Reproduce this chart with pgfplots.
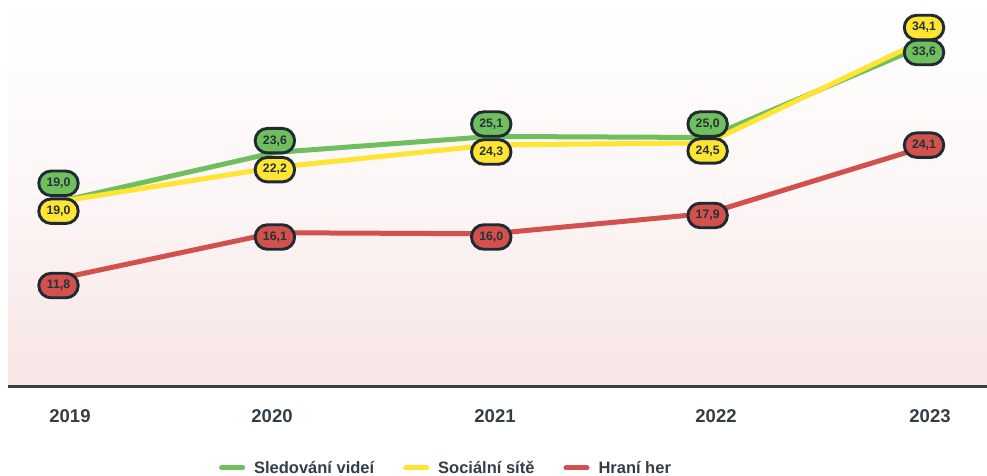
\documentclass[border=0pt]{standalone}
\usepackage{pgfplots}
\usepackage{pgfplotstable}
\pgfplotsset{compat=1.18}
\usepackage{fontspec}
\setmainfont{Liberation Sans}
\usetikzlibrary{shapes.misc}
\definecolor{cgreen}{HTML}{6FBF5F}
\definecolor{cyellow}{HTML}{FFE433}
\definecolor{cred}{HTML}{D2514D}
\definecolor{cborder}{HTML}{1F2A33}
\definecolor{ctext}{HTML}{26313A}
\definecolor{ctick}{HTML}{333D46}
\definecolor{cbg}{HTML}{F8E5E5}

\pgfplotstableread{
x v dy lab
0 19.0 18.4 19,0
1 23.6 11.8 23,6
2 25.1 12.4 25,1
3 25.0 13.5 25,0
4 33.6 -7.0 33,6
}\greentab
\pgfplotstableread{
x v dy lab
0 19.0 -9.5 19,0
1 22.2 -2.2 22,2
2 24.3 -7.0 24,3
3 24.5 -8.1 24,5
4 34.1 12.6 34,1
}\yellowtab
\pgfplotstableread{
x v dy lab
0 11.8 -6.8 11,8
1 16.1 -4.3 16,1
2 16.0 -3.2 16,0
3 17.9 -2.0 17,9
4 24.1 2.0 24,1
}\redtab

\pgfplotsset{
  vlabel/.style={
    draw=none, no markers, forget plot,
    nodes near coords, point meta=explicit symbolic,
    visualization depends on={\thisrow{dy} \as \dy},
    every node near coord/.append style={
      anchor=center, yshift=\dy pt, rounded rectangle, fill=#1,
      draw=cborder, line width=2.9pt, minimum width=39.5pt,
      minimum height=24.5pt, inner sep=0pt, text=ctext,
      font=\fontsize{12.3}{13}\selectfont\bfseries}
  }
}

\begin{document}
\begin{tikzpicture}
\useasboundingbox (-8pt,-90pt) rectangle (979pt,386pt);
\begin{axis}[
  scale only axis,
  width=979pt, height=386pt,
  xmin=-0.2334, xmax=4.2911,
  ymin=1.776, ymax=37.85,
  clip=false,
  axis x line=bottom, axis y line=none,
  x axis line style={-, draw=cborder!90!white, line width=3pt},
  ytick=\empty,
  xtick={0.0531,0.9867,2.0173,3.0387,4.0277},
  xticklabels={2019,2020,2021,2022,2023},
  major tick length=0pt,
  xticklabel style={font=\fontsize{18.5}{20}\selectfont\bfseries, text=ctick, anchor=center, yshift=-30pt},
  axis background/.style={top color=white, bottom color=cbg, middle color=cbg!35!white},
  legend style={at={(0.4469,-0.2124)}, anchor=center, draw=none, fill=none,
    nodes={font=\fontsize{16.5}{18}\selectfont\bfseries, text=ctick, inner sep=1pt},
    /tikz/every even column/.append style={column sep=28pt},
    /tikz/every odd column/.append style={column sep=8pt}},
  legend columns=3,
  legend image code/.code={\draw[#1, line cap=round] (2.5pt,0pt) -- (23.5pt,0pt);},
]
\addplot[cgreen, line width=5pt] table[x=x, y=v] {\greentab};
\addlegendentry{Sledování videí}
\addplot[cyellow, line width=5pt] table[x=x, y=v] {\yellowtab};
\addlegendentry{Sociální sítě}
\addplot[cred, line width=5pt] table[x=x, y=v] {\redtab};
\addlegendentry{Hraní her}
\addplot[vlabel=cred] table[x=x, y=v, meta=lab] {\redtab};
\addplot[vlabel=cyellow] table[x=x, y=v, meta=lab] {\yellowtab};
\addplot[vlabel=cgreen] table[x=x, y=v, meta=lab] {\greentab};
\end{axis}
\end{tikzpicture}
\end{document}
